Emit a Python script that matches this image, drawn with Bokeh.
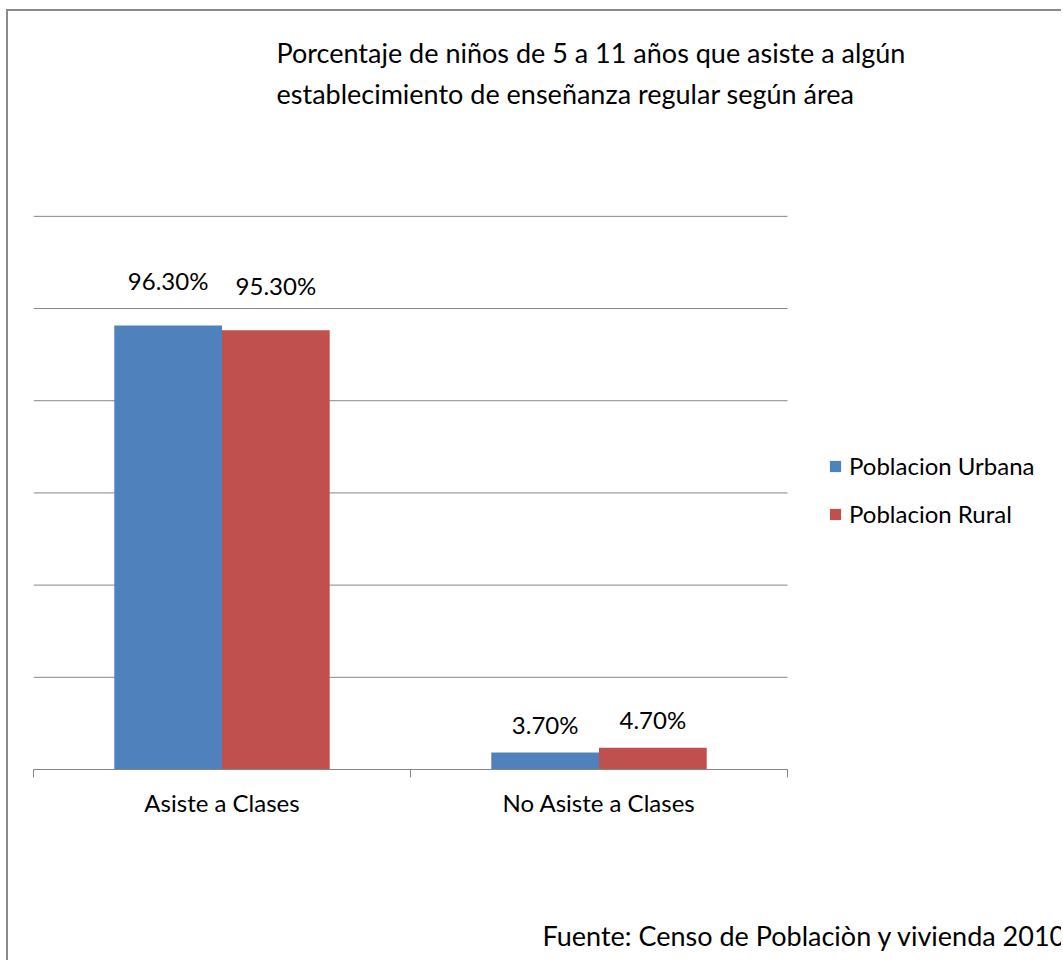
from bokeh.plotting import figure
from bokeh.models import (ColumnDataSource, FixedTicker, Legend, LegendItem, Title,
                          Range1d)
from bokeh.core.properties import value
from bokeh.embed import file_html
from bokeh.resources import INLINE

# ---- data ----
categories = ["Asiste a Clases", "No Asiste a Clases"]
series_names = ["Poblacion Urbana", "Poblacion Rural"]
urbana = [96.3, 3.7]
rural = [95.3, 4.7]
label_urbana = ["96.30%", "3.70%"]
label_rural = ["95.30%", "4.70%"]
title_lines = ["Porcentaje de niños de 5 a 11 años que asiste a algún",
               "establecimiento de enseñanza regular según área"]
source_note = "Fuente: Censo de Poblaciòn y vivienda 2010"
y_ticks = [0, 20, 40, 60, 80, 100, 120]

# ---- styling ----
FONT = "Lato"
BLUE = "#4F81BD"
RED = "#C0504D"
GRID = "#868686"
BAR_W = 1 / 3.5
label_offsets = [-45, -28]
N = len(categories)
X_END = N * 1030 / 754  # frame extends right of the bars to hold the legend

W, H = 1055, 951
p = figure(width=W, height=H, output_backend="svg", toolbar_location=None,
           x_range=Range1d(0, X_END), y_range=Range1d(0, 120.4),
           min_border_left=25, min_border_right=0, min_border_top=203,
           min_border_bottom=193)
p.styles = {"margin-left": "6px", "margin-top": "9px",
            "border-left": "2px solid #8a8a8a", "border-top": "2px solid #8a8a8a"}
p.outline_line_color = None
p.background_fill_color = "white"
p.border_fill_color = "white"

# horizontal grid lines spanning only the category area
grid_y = y_ticks[1:]
p.segment(x0=[0] * len(grid_y), x1=[N] * len(grid_y), y0=grid_y, y1=grid_y,
          line_color=GRID, line_width=1)

centers = [i + 0.5 for i in range(N)]
src_u = ColumnDataSource(dict(x=[c - BAR_W / 2 for c in centers], top=urbana,
                              lab=label_urbana, off=label_offsets))
src_r = ColumnDataSource(dict(x=[c + BAR_W / 2 for c in centers], top=rural,
                              lab=label_rural, off=label_offsets))

r_u = p.vbar(x="x", top="top", width=BAR_W, bottom=0, source=src_u,
             fill_color=BLUE, line_color=None)
r_r = p.vbar(x="x", top="top", width=BAR_W, bottom=0, source=src_r,
             fill_color=RED, line_color=None)

for src in (src_u, src_r):
    p.text(x="x", y="top", text="lab", source=src, y_offset="off",
           text_align="center", text_baseline="middle",
           text_font=value(FONT), text_font_size="24px", text_color="black")

# y axis hidden
p.yaxis.visible = False
p.ygrid.visible = False
p.xgrid.visible = False

# x axis: labels at category centers, tick marks at boundaries
xa = p.xaxis[0]
xa.ticker = FixedTicker(ticks=centers, minor_ticks=list(range(N + 1)))
xa.major_label_overrides = {c: categories[i] for i, c in enumerate(centers)}
xa.bounds = (0, N)
xa.major_tick_out = 0
xa.major_tick_in = 0
xa.minor_tick_out = 8
xa.minor_tick_in = 0
xa.minor_tick_line_color = GRID
xa.axis_line_color = GRID
xa.axis_line_width = 1
xa.major_label_text_font = FONT
xa.major_label_text_font_size = "24px"
xa.major_label_text_color = "black"
xa.major_label_standoff = 10

# legend inside the (extended) frame, right of the bars
legend = Legend(items=[LegendItem(label=series_names[0], renderers=[r_u]),
                       LegendItem(label=series_names[1], renderers=[r_r])],
                location=(795, 241), orientation="vertical",
                glyph_width=14, glyph_height=14, label_text_font=FONT,
                label_text_font_size="24px", label_text_color="black",
                label_standoff=7, spacing=19, label_height=29,
                padding=0, margin=0, border_line_color=None,
                background_fill_alpha=0)
p.add_layout(legend)

# title lines (above panel): spacer nearest the frame, then line 2, then line 1
def title(text, size, standoff, offset=243):
    return Title(text=text, align="left", offset=offset, text_font=FONT,
                 text_font_size=size, text_font_style="normal",
                 text_color="black", standoff=standoff)

p.add_layout(title(" ", "1px", 99), "above")
p.add_layout(title(title_lines[1], "27px", 6), "above")
p.add_layout(title(title_lines[0], "27px", 6), "above")

# source note (below panel): spacer after the axis, then the note
p.add_layout(title(" ", "1px", 94), "below")
p.add_layout(title(source_note, "27px", 0, offset=509), "below")

open("out.html", "w").write(file_html(p, INLINE))
